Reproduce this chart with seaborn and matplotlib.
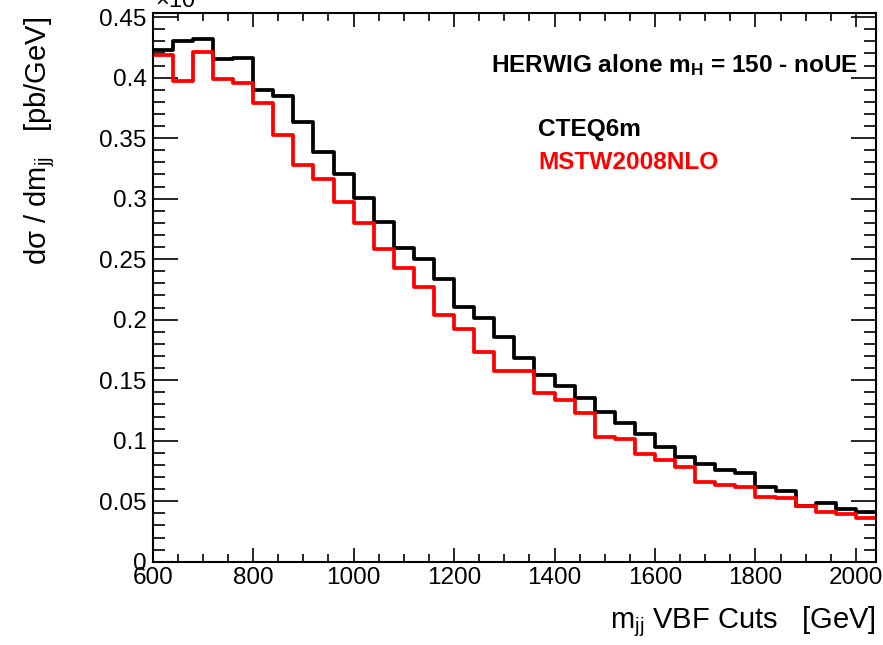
import numpy as np
import pandas as pd
import matplotlib
matplotlib.use("Agg")
import matplotlib.pyplot as plt
from matplotlib.ticker import MultipleLocator, FuncFormatter
import seaborn as sns

# m_jj binning (GeV): 40 GeV bins from 600 to 2040
bin_width = 40
mjj_range = (600, 2040)
bin_centers = np.arange(mjj_range[0] + bin_width / 2, mjj_range[1], bin_width)

# dsigma/dm_jj [pb/GeV] per bin
cteq6m = [0.4229, 0.4306, 0.4322, 0.4155, 0.4165, 0.3896, 0.3849, 0.3634,
          0.3388, 0.3202, 0.3003, 0.2810, 0.2590, 0.2499, 0.2334, 0.2102,
          0.2011, 0.1854, 0.1681, 0.1543, 0.1452, 0.1350, 0.1238, 0.1144,
          0.1055, 0.0945, 0.0868, 0.0807, 0.0758, 0.0736, 0.0615, 0.0587,
          0.0462, 0.0488, 0.0433, 0.0411]
mstw2008nlo = [0.4187, 0.3975, 0.4210, 0.3989, 0.3954, 0.3788, 0.3529, 0.3281,
               0.3165, 0.2975, 0.2797, 0.2582, 0.2425, 0.2273, 0.2039, 0.1923,
               0.1736, 0.1579, 0.1579, 0.1392, 0.1336, 0.1232, 0.1033, 0.1011,
               0.0890, 0.0840, 0.0780, 0.0661, 0.0634, 0.0615, 0.0532, 0.0524,
               0.0458, 0.0411, 0.0394, 0.0359]

series_names = ["CTEQ6m", "MSTW2008NLO"]
series_colors = ["#000000", "#ff0000"]

df = pd.DataFrame({
    "mjj": np.concatenate([bin_centers, bin_centers]),
    "xsec": cteq6m + mstw2008nlo,
    "pdf": [series_names[0]] * len(cteq6m) + [series_names[1]] * len(mstw2008nlo),
})

sns.set_style("ticks")
plt.rcParams["font.family"] = ["Liberation Sans", "DejaVu Sans"]
plt.rcParams["mathtext.fontset"] = "custom"
plt.rcParams["mathtext.rm"] = "Liberation Sans"
plt.rcParams["mathtext.it"] = "Liberation Sans"
plt.rcParams["mathtext.bf"] = "Liberation Sans:bold"
for key in ["text.color", "axes.labelcolor", "xtick.color", "ytick.color",
            "axes.edgecolor"]:
    plt.rcParams[key] = "black"

fig = plt.figure(figsize=(8.83, 6.45), dpi=100)
ax = fig.add_axes([0.1729, 0.1291, 0.8192, 0.8503])

for name, color in zip(series_names, series_colors):
    sub = df[df["pdf"] == name]
    sns.histplot(data=sub, x="mjj", weights="xsec", binwidth=bin_width,
                 binrange=mjj_range, element="step", fill=False, color=color,
                 linewidth=2.7, ax=ax, legend=False)

ax.set_xlim(*mjj_range)
ax.set_ylim(0, 0.4532)

ax.xaxis.set_major_locator(MultipleLocator(200))
ax.xaxis.set_minor_locator(MultipleLocator(50))
ax.yaxis.set_major_locator(MultipleLocator(0.05))
ax.yaxis.set_minor_locator(MultipleLocator(0.01))
ax.yaxis.set_major_formatter(FuncFormatter(lambda v, p: "%g" % round(v, 3)))

for s in ax.spines.values():
    s.set_linewidth(1.5)
    s.set_color("black")

ax.tick_params(axis="both", which="both", direction="in", top=True, right=True,
               width=1.2, colors="black", labelsize=17.5)
ax.tick_params(axis="x", which="major", length=10, pad=3.5)
ax.tick_params(axis="x", which="minor", length=5.5)
ax.tick_params(axis="y", which="major", length=17.8, pad=4.3)
ax.tick_params(axis="y", which="minor", length=8.6)

ax.set_xlabel(r"$\mathrm{m}_{\mathrm{jj}}$ VBF Cuts   [GeV]", fontsize=21, loc="right")
ax.xaxis.set_label_coords(1.0, -0.11)
ax.xaxis.label.set_va("center")

ax.set_ylabel(r"dσ / d$\mathrm{m}_{\mathrm{jj}}$   [pb/GeV]", fontsize=21, loc="top")
ax.yaxis.set_label_coords(-0.156, 0.993)
ax.yaxis.label.set_va("center")

ax.text(0.975, 0.893, r"HERWIG alone $\mathbf{m}_{\mathbf{H}}$ = 150 - noUE",
        transform=ax.transAxes, ha="right", va="baseline",
        fontsize=17.6, fontweight="bold")
ax.text(0.5327, 0.7763, "CTEQ6m", transform=ax.transAxes, ha="left",
        va="baseline", fontsize=17.6, fontweight="bold", color=series_colors[0])
ax.text(0.5327, 0.7158, "MSTW2008NLO", transform=ax.transAxes, ha="left",
        va="baseline", fontsize=17.6, fontweight="bold", color=series_colors[1])

# axis exponent label, sitting at the very top edge of the canvas
fig.text(155 / 883, 1 - 8 / 645, r"×10$^{-3}$", ha="left", va="baseline",
         fontsize=17)

fig.savefig("out.png", dpi=100)
